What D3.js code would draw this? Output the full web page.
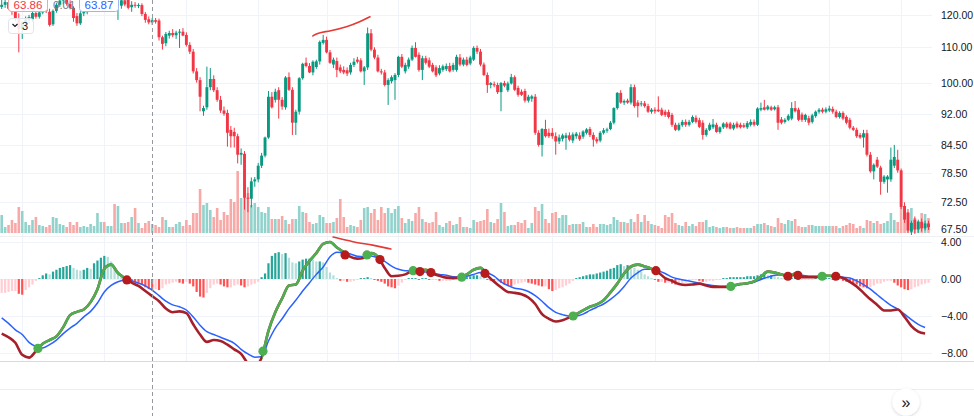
<!DOCTYPE html>
<html lang="en">
<head>
<meta charset="UTF-8">
<title>Price, volume and MACD</title>
<script src="https://d3js.org/d3.v7.min.js"></script>
<style>
    body { margin: 0; background: #fff; }
    svg { display: block; font-family: "Liberation Sans", Arial, sans-serif; }
    .axis text { fill: #131722; font-size: 10.5px; }
</style>
</head>
<body>
<svg id="chart" width="974" height="416"></svg>
<script>
// candles: [open, high, low, close]
const ohlc = [
[122.6,124.9,121.9,123.3],[123.3,125.5,122.3,124.2],[124.2,125.0,121.6,122.0],[122.0,123.6,120.0,121.0],[121.0,122.5,118.0,119.0],
[119.0,120.5,108.5,115.5],[115.5,118.0,112.5,117.5],[117.5,119.5,116.0,118.5],[118.5,120.0,117.2,119.3],[118.6,121.5,117.8,120.6],
[120.6,121.8,118.8,119.4],[119.4,121.5,118.8,120.8],[120.8,123.6,120.2,122.9],[122.9,124.2,120.6,121.2],[121.0,122.0,116.3,116.8],
[117.0,121.8,116.5,121.3],[121.3,124.0,120.7,123.3],[123.3,125.5,122.6,124.7],[124.7,126.0,123.5,125.4],[125.4,126.5,123.0,123.6],
[123.6,124.8,121.8,122.3],[122.3,122.8,117.8,119.0],[119.6,120.6,116.5,117.3],[117.3,121.2,116.8,120.5],[120.5,122.0,119.6,120.9],
[120.9,123.5,120.2,122.8],[122.8,125.5,121.9,124.9],[124.9,126.5,124.0,125.8],[125.8,127.5,124.5,126.5],[126.5,128.0,125.2,127.2],
[127.2,128.5,125.8,126.4],[126.4,127.8,125.0,127.0],[127.0,128.8,126.0,128.0],[128.0,129.0,124.5,125.2],[125.2,126.8,118.4,126.0],
[123.0,125.5,122.0,124.8],[124.8,126.0,122.8,123.4],[125.0,126.0,121.8,122.3],[122.5,124.5,121.0,123.3],[123.3,124.2,122.3,123.0],
[123.0,123.8,122.2,123.2],[123.2,123.8,119.6,120.3],[120.3,120.9,117.5,118.4],[118.6,119.5,117.0,117.6],[117.6,119.0,116.8,118.3],
[118.3,119.0,117.2,117.8],[118.2,118.8,112.0,113.0],[113.0,113.5,109.3,111.0],[111.2,114.6,110.3,114.0],[113.5,115.0,112.6,114.3],
[114.3,115.5,113.0,113.6],[113.6,115.0,112.5,114.4],[114.4,115.5,109.8,114.7],[114.7,115.8,113.3,113.5],[113.7,114.5,110.2,110.7],
[110.7,111.5,108.0,108.7],[108.7,109.5,102.5,103.1],[103.1,104.0,100.0,100.7],[100.7,101.5,92.6,96.3],[92.6,94.0,91.5,93.4],
[93.6,104.4,93.0,98.8],[98.8,104.0,98.0,101.0],[101.0,102.0,97.5,98.0],[98.0,98.8,95.0,95.5],[95.5,96.5,92.2,92.8],
[92.8,93.8,91.5,92.0],[92.2,93.0,84.2,87.4],[88.1,89.0,84.0,86.6],[87.6,88.6,84.0,86.6],[86.6,87.2,80.5,82.4],
[82.4,83.8,80.2,82.8],[82.6,83.2,71.1,73.4],[73.4,75.5,70.6,73.2],[73.2,77.5,71.5,76.7],[76.7,77.6,75.6,77.1],
[77.1,80.6,76.5,80.0],[80.0,82.8,79.5,82.2],[82.2,86.5,81.8,86.3],[86.3,97.8,86.0,96.3],[96.3,97.5,93.3,93.6],
[95.5,98.4,94.8,97.6],[98.0,98.8,90.8,95.5],[95.5,96.2,93.0,93.8],[93.6,101.8,93.0,101.4],[101.5,102.8,97.8,98.1],
[98.1,98.8,86.9,89.8],[89.8,93.0,86.9,92.5],[92.5,101.5,91.8,101.2],[101.2,105.5,100.8,105.2],[105.5,107.0,104.2,104.6],
[104.6,105.4,102.6,102.8],[102.8,106.2,102.0,105.8],[104.3,106.4,103.8,105.9],[105.9,112.0,105.0,111.6],[111.3,113.7,110.8,112.2],
[112.2,113.2,108.2,108.5],[108.5,109.2,105.2,105.5],[105.0,107.0,104.0,106.4],[106.0,107.0,101.5,103.5],[104.2,105.0,102.6,103.1],
[103.5,104.5,102.3,102.8],[103.4,104.2,101.8,102.5],[102.8,105.5,102.2,104.9],[104.9,106.8,104.3,105.8],[106.4,107.2,105.3,105.8],
[106.2,106.8,102.8,103.1],[103.1,104.6,99.4,104.2],[104.2,116.0,103.5,114.2],[114.2,115.5,108.8,109.3],[109.3,110.0,106.5,107.0],
[107.0,107.8,102.8,103.1],[103.1,103.8,102.2,102.8],[102.8,103.5,99.0,99.4],[99.4,101.2,94.2,100.7],[100.4,102.0,99.8,101.5],
[100.7,102.6,95.5,102.1],[102.1,107.5,101.5,107.2],[107.2,108.0,104.0,104.4],[103.1,105.5,102.5,104.9],[104.4,107.0,103.8,106.4],
[106.4,110.5,106.0,109.8],[109.8,111.5,107.0,107.2],[107.8,108.5,103.0,103.5],[103.5,107.5,100.7,106.8],[106.8,107.5,105.0,105.5],
[106.2,107.0,104.0,104.4],[104.9,105.5,102.8,103.1],[104.2,104.8,101.5,102.0],[102.5,104.8,102.0,104.0],[103.5,105.0,103.0,104.5],
[103.7,105.3,103.2,104.6],[104.6,105.5,102.8,103.1],[103.5,105.5,103.0,104.9],[103.5,107.8,103.0,107.2],[107.0,108.0,104.5,105.0],
[105.0,107.0,104.5,106.4],[106.4,107.2,104.5,104.9],[105.3,107.5,104.8,107.0],[106.4,110.3,106.0,109.8],[109.8,110.5,108.0,108.7],
[108.7,109.5,104.5,105.0],[105.0,105.6,101.8,102.1],[102.1,102.8,97.3,99.4],[99.4,100.2,98.5,99.9],[99.6,100.3,98.8,99.3],
[99.4,100.0,97.0,97.5],[97.5,100.2,92.6,99.9],[99.9,100.5,98.8,99.2],[98.0,100.3,97.5,99.8],[99.8,102.4,99.5,101.5],
[101.5,102.0,97.8,98.1],[98.6,99.2,96.3,96.8],[97.6,98.2,96.5,96.8],[97.8,98.4,94.8,95.3],[95.3,96.8,94.8,96.3],
[95.8,96.8,95.0,96.4],[96.3,97.0,86.9,87.4],[87.4,88.0,84.2,84.6],[84.6,88.5,82.0,88.3],[88.3,90.5,86.3,86.6],
[87.4,88.4,86.2,86.6],[87.4,88.5,86.0,86.6],[86.6,87.5,82.4,85.4],[85.4,87.0,84.8,86.3],[86.0,87.2,85.4,86.8],
[86.2,87.4,83.5,86.8],[86.8,87.5,85.4,85.8],[85.6,87.5,85.0,87.0],[86.6,87.6,86.0,87.2],[86.8,87.5,85.5,85.9],
[86.5,88.0,86.0,87.7],[87.4,88.5,87.0,88.2],[88.3,88.8,86.4,86.9],[86.9,87.5,84.2,85.8],[85.9,86.4,84.9,85.4],
[85.6,87.8,85.2,87.4],[87.4,88.5,87.0,88.0],[87.9,88.6,87.4,88.2],[88.3,90.2,88.0,89.8],[89.8,93.6,89.4,93.4],
[93.4,97.5,93.0,97.3],[97.3,98.0,94.5,94.8],[94.8,95.6,94.2,95.2],[95.3,95.8,94.5,94.8],[94.8,99.6,94.3,98.8],
[98.8,99.5,93.5,93.9],[94.8,95.4,91.1,93.9],[94.4,95.2,93.8,94.6],[94.6,95.2,93.5,93.9],[93.9,94.5,92.2,92.5],
[92.5,93.4,92.0,93.0],[93.0,93.6,92.0,92.6],[93.0,96.4,92.4,92.6],[93.0,93.5,91.4,91.7],[92.5,93.0,91.2,91.7],
[92.4,93.0,90.8,91.2],[91.7,92.2,88.8,89.3],[89.3,89.8,87.8,88.1],[88.1,89.8,87.8,89.3],[89.2,90.5,88.8,90.0],
[90.0,90.6,88.8,89.3],[89.3,90.5,88.9,90.0],[90.0,91.6,89.7,91.2],[91.0,91.6,89.6,90.0],[90.4,91.0,88.5,88.8],
[89.8,90.4,85.8,86.9],[86.9,88.5,86.5,88.1],[88.1,89.8,87.8,89.3],[88.7,90.7,88.3,89.4],[89.3,89.8,87.4,87.6],
[87.6,88.9,87.2,88.7],[88.7,89.9,88.3,89.6],[89.6,90.0,88.4,88.7],[89.6,90.0,88.2,88.4],[88.4,89.8,88.0,89.3],
[89.6,90.1,88.4,88.7],[89.3,89.8,88.4,88.7],[89.2,89.7,88.5,88.8],[88.7,90.2,88.3,89.7],[89.3,90.6,88.9,90.0],
[90.0,90.6,88.9,89.3],[89.3,93.6,89.0,93.3],[93.0,94.8,92.6,93.4],[93.6,95.5,92.8,93.0],[93.1,94.2,92.8,93.8],
[93.6,94.0,92.7,93.0],[93.1,94.0,92.8,93.6],[93.6,94.2,88.1,89.8],[90.6,91.2,89.4,89.8],[90.0,90.9,89.6,90.5],
[90.5,91.9,90.2,91.5],[90.8,94.9,90.4,93.4],[93.4,95.2,92.3,92.6],[93.0,93.5,90.2,90.5],[91.8,92.3,90.0,90.5],
[90.5,92.0,90.0,91.7],[90.9,91.5,89.2,89.8],[90.0,92.0,89.6,91.6],[91.4,92.8,91.0,92.5],[92.5,93.4,92.0,93.0],
[93.0,93.5,92.1,92.5],[92.5,93.6,92.1,93.1],[92.8,94.0,92.4,93.3],[93.2,93.8,92.0,92.5],[92.5,93.0,90.9,91.2],
[91.2,92.6,90.8,92.2],[92.2,92.6,90.4,90.8],[91.2,91.6,89.4,89.8],[90.5,91.0,88.2,88.6],[88.6,89.0,87.8,88.1],
[88.1,88.6,86.2,86.6],[86.9,87.4,86.0,86.3],[86.3,88.1,84.0,87.3],[87.3,88.1,82.0,82.4],[82.4,83.0,78.5,78.8],
[78.8,80.5,77.1,80.2],[81.3,81.9,79.5,79.8],[79.6,80.0,74.0,76.6],[76.6,78.0,76.2,77.7],[77.1,78.0,74.4,77.7],
[77.1,84.0,76.6,81.3],[80.0,84.6,79.5,81.9],[81.3,83.5,78.5,79.0],[79.0,79.4,71.2,71.6],[71.8,72.5,68.6,69.2],
[70.5,71.2,66.8,67.2],[67.0,69.0,66.4,68.6],[69.2,69.8,66.6,67.4],[67.4,69.2,66.8,68.8],[68.8,69.4,67.0,67.6],
[67.6,69.0,67.2,68.5],[68.5,69.0,67.3,67.8]
];

const volume = [
18,6,8,13,10,26,22,11,8,13,16,8,7,6,8,16,15,9,8,6,11,8,11,6,7,6,9,7,20,11,
11,7,7,29,27,10,10,11,16,25,10,5,10,12,9,8,6,16,13,6,6,9,11,7,13,8,20,20,44,28,
30,23,16,25,13,21,18,34,31,62,35,36,40,28,30,26,21,20,26,14,14,14,17,13,9,14,14,27,21,20,
11,9,10,18,16,10,10,11,15,34,16,6,8,7,6,13,25,26,20,24,13,26,20,25,20,24,27,15,10,14,
12,20,26,14,11,10,11,21,8,6,10,12,8,9,16,6,6,5,13,11,12,13,24,11,10,14,30,21,7,8,
8,11,10,13,5,10,26,22,29,14,10,20,21,15,18,18,8,9,9,9,11,6,6,9,6,9,9,8,9,16,
13,11,11,10,14,11,19,11,18,12,9,8,7,5,18,16,20,10,8,7,11,7,9,7,11,11,13,6,7,6,
5,6,6,5,5,6,5,5,5,5,7,9,9,10,8,7,6,15,10,9,13,12,14,7,6,6,8,8,7,7,
7,7,7,7,7,5,7,8,10,9,5,7,5,13,12,10,12,9,10,12,20,13,11,26,27,21,25,15,12,20,
19,15
];

const hist = [
-1.5,-1.5,-1.4,-1.3,-1.3,-1.6,-1.7,-1.2,-0.9,-0.6,-0.2,0.1,0.4,0.6,0.5,0.8,1.0,1.2,1.3,1.4,
1.5,1.2,1.0,0.9,1.0,1.2,1.1,1.7,2.0,2.3,2.5,2.4,1.9,1.3,0.8,0.5,0.2,-0.1,-0.3,-0.4,
-0.5,-0.6,-0.9,-1.1,-1.2,-1.1,-1.2,-1.0,-0.6,-0.5,-0.4,-0.3,-0.4,-0.5,-0.3,-0.5,-0.8,-1.4,-1.9,-2.0,
-1.5,-1.0,-0.6,-0.5,-0.6,-0.8,-0.9,-0.9,-0.7,-0.6,-0.7,-0.9,-0.8,-0.6,-0.5,-0.3,0.2,0.6,1.7,2.5,
2.8,2.9,2.7,2.8,2.3,1.8,1.7,1.9,2.1,2.2,2.2,2.1,1.9,1.9,1.8,1.3,0.7,0.4,0.1,-0.2,
-0.2,-0.3,-0.3,-0.2,-0.1,0.1,0.1,0.2,0.1,-0.1,-0.2,-0.3,-0.5,-0.8,-0.9,-1.0,-0.7,-0.4,-0.1,0.1,
0.1,0.1,-0.1,0.1,0.1,-0.1,-0.1,-0.1,-0.2,-0.2,-0.2,-0.2,-0.1,0.1,0.1,0.2,0.2,0.3,0.4,0.4,
0.3,0.1,-0.1,-0.2,-0.3,-0.3,-0.4,-0.6,-0.7,-0.8,-0.6,-0.5,-0.4,-0.3,-0.4,-0.5,-0.6,-0.7,-0.8,-0.8,
-1.1,-1.3,-1.2,-1.0,-0.9,-0.7,-0.5,-0.2,0.1,0.2,0.3,0.4,0.5,0.5,0.6,0.7,0.8,0.9,1.1,1.2,
1.5,1.6,1.4,1.5,1.4,1.2,1.0,0.8,0.5,0.3,0.1,-0.1,-0.3,-0.3,-0.4,-0.4,-0.5,-0.6,-0.6,-0.5,
-0.4,-0.2,-0.1,-0.1,-0.2,-0.3,-0.3,-0.2,-0.2,-0.1,-0.1,0.1,0.1,0.2,0.2,0.2,0.2,0.2,0.3,0.3,
0.3,0.4,0.5,0.5,0.4,0.4,0.3,0.2,0.1,0.1,-0.1,0.1,0.1,-0.1,-0.1,-0.1,-0.1,-0.1,0.1,0.1,
0.1,0.1,0.1,-0.1,-0.1,-0.1,-0.2,-0.3,-0.4,-0.5,-0.6,-0.8,-0.9,-1.0,-0.9,-0.7,-0.5,-0.5,-0.3,-0.2,
-0.2,-0.4,-0.7,-0.9,-1.1,-1.2,-1.1,-0.9,-0.8,-0.6,-0.5,-0.4
];

// MACD and signal, one reading every macdStep candles
const macdStep = 2;
const macdLine = [
-5.9,-6.3,-6.9,-8.2,-8.5,-7.8,-7.0,-6.6,-6.2,-5.2,-3.9,-3.55,-3.3,-2.5,-1.1,1.1,1.55,0.65,0.1,-0.4,
-0.75,-1.3,-1.85,-2.4,-3.2,-3.6,-3.5,-3.7,-4.9,-6.0,-6.8,-6.6,-6.7,-7.1,-7.6,-8.1,-9.1,-9.4,-8.5,-5.6,
-3.6,-2.1,-0.7,-0.6,0.9,1.95,2.8,3.8,4.0,3.4,2.9,2.4,2.2,2.3,2.8,2.4,1.2,0.3,0.35,0.5,
0.85,0.9,1.0,0.6,0.35,0.15,0.1,0.15,0.5,1.0,1.2,0.4,-0.3,-0.9,-1.4,-1.5,-1.65,-2.0,-2.7,-3.8,
-4.3,-4.6,-4.45,-4.15,-3.8,-3.4,-3.0,-2.75,-2.3,-1.45,-0.5,0.6,1.35,1.55,1.35,1.1,0.7,0.1,-0.2,-0.55,
-0.65,-0.6,-0.5,-0.7,-0.85,-0.85,-0.85,-0.7,-0.55,-0.45,-0.25,0.25,0.8,0.7,0.5,0.3,0.6,0.2,0.2,0.2,
0.35,0.35,0.28,0.1,-0.3,-0.8,-1.5,-2.2,-2.8,-3.4,-3.4,-3.3,-4.1,-5.1,-5.7,-5.9
];
const signalLine = [
-4.2,-4.8,-5.5,-6.0,-6.85,-7.3,-7.45,-7.1,-6.6,-5.9,-5.3,-4.8,-4.1,-3.5,-2.6,-1.4,-0.7,-0.3,-0.1,-0.2,
-0.45,-0.75,-1.2,-1.8,-2.4,-2.8,-3.0,-3.35,-4.1,-5.0,-5.7,-6.0,-6.3,-6.6,-6.95,-7.6,-8.1,-8.45,-8.4,-6.7,
-5.3,-4.3,-3.2,-2.3,-1.3,-0.4,0.5,1.3,2.4,2.9,2.85,2.7,2.45,2.4,2.5,2.3,1.9,1.4,1.05,0.9,
0.9,0.82,0.75,0.65,0.5,0.4,0.25,0.2,0.3,0.5,0.7,0.65,0.3,-0.3,-0.7,-1.0,-1.1,-1.35,-1.8,-2.4,
-3.1,-3.6,-3.85,-4.0,-4.0,-3.8,-3.4,-3.05,-2.7,-2.2,-1.6,-0.8,0.1,0.7,1.05,1.05,0.9,0.6,0.2,0.0,
-0.15,-0.3,-0.45,-0.6,-0.7,-0.8,-0.8,-0.75,-0.6,-0.5,-0.35,-0.05,0.2,0.4,0.45,0.4,0.4,0.4,0.3,0.3,
0.3,0.3,0.3,0.2,0.1,-0.2,-0.6,-1.1,-1.7,-2.3,-2.85,-3.25,-3.8,-4.4,-4.9,-5.25
];

// crossover markers (candle position, MACD value, bullish?)
const crossIdx = [10.6, 36.6, 76.4, 100.4, 106.8, 110.6, 120.3, 122.3, 125.5, 134.5, 141.3, 167.1, 191.3, 213.2, 229.9, 232.8, 239.9, 243.9];
const crossVal = [-7.5, -0.1, -7.8, 2.6, 2.6, 2.1, 0.9, 0.8, 0.7, 0.2, 0.6, -4.0, 0.9, -0.8, 0.3, 0.4, 0.3, 0.3];
const crossUp  = [true, false, true, false, true, false, true, false, false, true, false, true, false, true, false, false, true, false];

const priceTicks = [120, 110, 100, 92, 84.5, 78.5, 72.5, 67.5];
const macdTicks = [4, 0, -4, -8];
const timeTicks = [6, 30, 54, 75, 95, 116, 137, 161, 191, 221, 242, 263];
const crosshairIdx = 44;
const legendValues = ["63.86", "0.01", "63.87"];
const paneCount = "3";

// hand-drawn marks: [candle position, value]
const priceMark = [[91, 113.4], [92.2, 114.3], [96, 114.9], [101, 116.2], [104.8, 117.8], [107.7, 119.4]];
const macdMark = [[96.9, 4.54], [102.7, 4.0], [108.6, 3.68], [113.8, 3.24]];

const width = 974, height = 416;
const plotRight = 932;
const priceTop = 0, priceBottom = 236;
const macdTop = 236, macdBottom = 361;

const upColor = "#089981", downColor = "#f23645";

const x = d3.scaleLinear().domain([0, ohlc.length - 1]).range([1.7, 928.5]);
const yPrice = d3.scaleLog().domain([66.4, 124.9]).range([235, 0]);
const yVol = d3.scaleLinear().domain([0, 100]).range([233, 133]);
const yMacd = d3.scaleLinear().domain([-8, 4]).range([353, 242]);

const svg = d3.select("#chart");
const defs = svg.append("defs");

defs.append("clipPath").attr("id", "clipPrice")
    .append("rect").attr("x", 0).attr("y", priceTop).attr("width", plotRight).attr("height", priceBottom - priceTop);
defs.append("clipPath").attr("id", "clipMacd")
    .append("rect").attr("x", 0).attr("y", macdTop).attr("width", plotRight).attr("height", macdBottom - macdTop);

const shadow = defs.append("filter").attr("id", "btnShadow").attr("x", "-50%").attr("y", "-50%").attr("width", "200%").attr("height", "200%");
shadow.append("feDropShadow").attr("dx", 0).attr("dy", 1).attr("stdDeviation", 1.5).attr("flood-color", "#000").attr("flood-opacity", 0.18);

// grid
const grid = svg.append("g");
grid.selectAll(".hgrid").data(priceTicks).join("line")
    .attr("x1", 0).attr("x2", plotRight)
    .attr("y1", d => Math.round(yPrice(d)) + 0.5).attr("y2", d => Math.round(yPrice(d)) + 0.5)
    .attr("stroke", "#f0f3fa");
grid.selectAll(".mgrid").data(macdTicks).join("line")
    .attr("x1", 0).attr("x2", plotRight)
    .attr("y1", d => Math.round(yMacd(d)) + 0.5).attr("y2", d => Math.round(yMacd(d)) + 0.5)
    .attr("stroke", "#f0f3fa");
grid.selectAll(".vgrid").data(timeTicks).join("line")
    .attr("x1", d => Math.round(x(d)) + 0.5).attr("x2", d => Math.round(x(d)) + 0.5)
    .attr("y1", 0).attr("y2", macdBottom)
    .attr("stroke", "#f0f3fa");

// pane borders
svg.append("line").attr("x1", 0).attr("x2", width).attr("y1", macdTop + 0.5).attr("y2", macdTop + 0.5).attr("stroke", "#eef0f4");
svg.append("line").attr("x1", 0).attr("x2", width).attr("y1", macdBottom + 0.5).attr("y2", macdBottom + 0.5).attr("stroke", "#d6d9e0");
svg.append("line").attr("x1", 0).attr("x2", width).attr("y1", 389.5).attr("y2", 389.5).attr("stroke", "#eceef2");

// price pane
const price = svg.append("g").attr("clip-path", "url(#clipPrice)");
const isUp = d => d[3] >= d[0];

price.selectAll(".vol").data(volume).join("rect")
    .attr("x", (d, i) => x(i) - 1.3)
    .attr("width", 2.6)
    .attr("y", d => yVol(d))
    .attr("height", d => yVol(0) - yVol(d))
    .attr("fill", (d, i) => isUp(ohlc[i]) ? "#92d2cc" : "#f7a9a7");

const candle = price.selectAll(".candle").data(ohlc).join("g");
candle.append("line")
    .attr("x1", (d, i) => x(i)).attr("x2", (d, i) => x(i))
    .attr("y1", d => yPrice(d[1])).attr("y2", d => yPrice(d[2]))
    .attr("stroke", d => isUp(d) ? upColor : downColor);
candle.append("rect")
    .attr("x", (d, i) => x(i) - 1.45)
    .attr("width", 2.9)
    .attr("y", d => yPrice(Math.max(d[0], d[3])))
    .attr("height", d => Math.max(1, yPrice(Math.min(d[0], d[3])) - yPrice(Math.max(d[0], d[3]))))
    .attr("fill", d => isUp(d) ? upColor : downColor);

price.append("path")
    .datum(priceMark)
    .attr("d", d3.line().x(d => x(d[0])).y(d => yPrice(d[1])).curve(d3.curveBasis))
    .attr("fill", "none").attr("stroke", "#e53935").attr("stroke-width", 1.6).attr("stroke-linecap", "round");

// MACD pane
const macdG = svg.append("g").attr("clip-path", "url(#clipMacd)");

macdG.selectAll(".hist").data(hist).join("rect")
    .attr("x", (d, i) => x(i) - 1.1)
    .attr("width", 2.2)
    .attr("y", d => Math.min(yMacd(d), yMacd(0)))
    .attr("height", d => Math.abs(yMacd(d) - yMacd(0)))
    .attr("fill", (d, i) => {
        const prev = i > 0 ? hist[i - 1] : d;
        if (d >= 0) return prev <= d ? "#26a69a" : "#b2dfdb";
        return prev > d ? "#ff5252" : "#ffcdd2";
    });

const macdPts = macdLine.map((v, k) => ({ i: k * macdStep, m: v, s: signalLine[k] }));

// where MACD runs above the signal line
const upRanges = [];
let start = null;
macdPts.forEach((p, k) => {
    const d = p.m - p.s;
    if (k === 0) { if (d > 0) start = p.i; return; }
    const q = macdPts[k - 1], dq = q.m - q.s;
    if (d > 0 && start === null) start = q.i + (0 - dq) / (d - dq) * (p.i - q.i);
    if (d <= 0 && start !== null) {
        upRanges.push([start, q.i + (0 - dq) / (d - dq) * (p.i - q.i)]);
        start = null;
    }
});
if (start !== null) upRanges.push([start, macdPts[macdPts.length - 1].i]);

defs.append("clipPath").attr("id", "clipUp")
    .selectAll("rect").data(upRanges).join("rect")
    .attr("x", d => x(d[0])).attr("width", d => x(d[1]) - x(d[0]))
    .attr("y", macdTop).attr("height", macdBottom - macdTop);

const lineGen = key => d3.line().x(d => x(d.i)).y(d => yMacd(d[key])).curve(d3.curveMonotoneX);

macdG.append("path").datum(macdPts).attr("d", lineGen("s"))
    .attr("fill", "none").attr("stroke", "#2962ff").attr("stroke-width", 1.5);
macdG.append("path").datum(macdPts).attr("d", lineGen("m"))
    .attr("fill", "none").attr("stroke", "#a5202a").attr("stroke-width", 2.6).attr("stroke-linejoin", "round");
macdG.append("g").attr("clip-path", "url(#clipUp)")
    .append("path").datum(macdPts).attr("d", lineGen("m"))
    .attr("fill", "none").attr("stroke", "#4caf50").attr("stroke-width", 2.6).attr("stroke-linejoin", "round");

macdG.selectAll(".cross").data(crossIdx).join("circle")
    .attr("cx", d => x(d))
    .attr("cy", (d, j) => yMacd(crossVal[j]))
    .attr("r", 4.6)
    .attr("fill", (d, j) => crossUp[j] ? "#4caf50" : "#b71c1c");

macdG.append("path")
    .datum(macdMark)
    .attr("d", d3.line().x(d => x(d[0])).y(d => yMacd(d[1])).curve(d3.curveBasis))
    .attr("fill", "none").attr("stroke", "#e53935").attr("stroke-width", 1.6).attr("stroke-linecap", "round");

// crosshair
svg.append("line")
    .attr("x1", Math.round(x(crosshairIdx)) + 0.5).attr("x2", Math.round(x(crosshairIdx)) + 0.5)
    .attr("y1", 0).attr("y2", height)
    .attr("stroke", "#9598a1").attr("stroke-dasharray", "4 3");

// axes
const priceAxis = d3.axisRight(yPrice).tickValues(priceTicks).tickFormat(d3.format(".2f")).tickSize(0).tickPadding(0);
svg.append("g").attr("class", "axis").attr("transform", "translate(941,0)").call(priceAxis)
    .call(g => g.select(".domain").remove());
const macdAxis = d3.axisRight(yMacd).tickValues(macdTicks).tickFormat(d3.format(".2f")).tickSize(0).tickPadding(0);
svg.append("g").attr("class", "axis").attr("transform", "translate(941,0)").call(macdAxis)
    .call(g => g.select(".domain").remove());

// legend chips at the top edge
const legend = svg.append("g").style("font-size", "11.5px");
legend.append("rect").attr("x", 8.5).attr("y", -7.5).attr("width", 39).attr("height", 19).attr("rx", 3)
    .attr("fill", "#fff").attr("stroke", "#f5a3a9");
legend.append("text").attr("x", 28).attr("y", 9).attr("text-anchor", "middle").attr("fill", "#f23645").text(legendValues[0]);
legend.append("text").attr("x", 53).attr("y", 9).attr("fill", "#787b86").text(legendValues[1]);
legend.append("rect").attr("x", 79.5).attr("y", -7.5).attr("width", 39).attr("height", 19).attr("rx", 3)
    .attr("fill", "#fff").attr("stroke", "#9fb6f5");
legend.append("text").attr("x", 99).attr("y", 9).attr("text-anchor", "middle").attr("fill", "#2962ff").text(legendValues[2]);

const toggle = legend.append("g");
toggle.append("rect").attr("x", 8.5).attr("y", 18.5).attr("width", 25).attr("height", 15).attr("rx", 3)
    .attr("fill", "rgba(255,255,255,0.85)").attr("stroke", "#e0e3eb");
toggle.append("path").attr("d", "M12.5,24 L15,26.5 L17.5,24").attr("fill", "none").attr("stroke", "#131722").attr("stroke-width", 1.2);
toggle.append("text").attr("x", 22).attr("y", 30).attr("fill", "#131722").style("font-size", "11px").text(paneCount);

// scroll button
const btn = svg.append("g").attr("transform", "translate(906,402)");
btn.append("circle").attr("r", 13.5).attr("fill", "#fff").attr("filter", "url(#btnShadow)");
btn.append("text").attr("text-anchor", "middle").attr("dy", "0.35em").attr("fill", "#131722")
    .style("font-size", "16px").text("»");
</script>
</body>
</html>
